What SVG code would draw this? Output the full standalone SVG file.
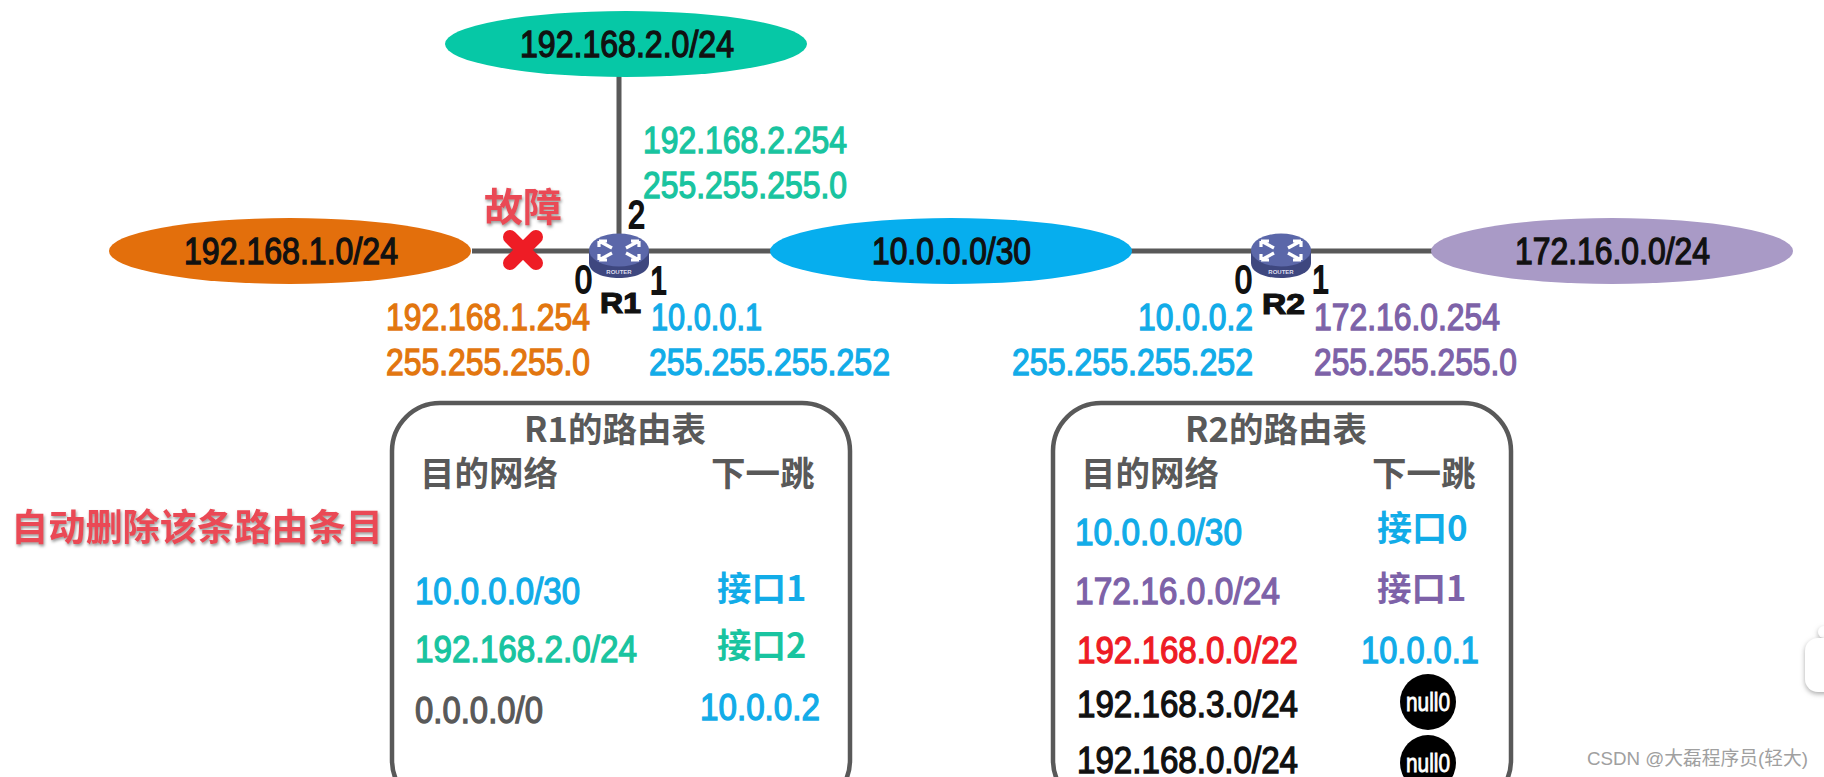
<svg xmlns="http://www.w3.org/2000/svg" xmlns:xlink="http://www.w3.org/1999/xlink" width="1824" height="777" viewBox="0 0 1824 777">
<style>
text{font-family:"Liberation Sans","Noto Sans CJK SC",sans-serif;font-size:36px;stroke-width:1.3px;paint-order:stroke}
.cjk{font-family:"Noto Sans CJK SC","Liberation Sans",sans-serif;font-weight:700;stroke-width:0}
.k{fill:#111;stroke:#111}.o{fill:#e2760f;stroke:#e2760f}.b{fill:#12ace8;stroke:#12ace8}.t{fill:#19c4a0;stroke:#19c4a0}.p{fill:#7d62a8;stroke:#7d62a8}.g{fill:#595959;stroke:#595959}.r{fill:#ee1c25;stroke:#ee1c25}
.c{fill:#12ace8}.u{fill:#7d62a8}.v{fill:#19c4a0}.h{fill:#595959}
.d{stroke-width:2px;font-size:38px}
.link{stroke:#595959;stroke-width:5;fill:none}
.box{fill:none;stroke:#595959;stroke-width:4.5}
.alert{fill:#ea4a55;filter:url(#sh)}
.arrow{fill:none;stroke:#fff;stroke-width:3.2}
.nul{fill:#fff;font-size:25px;stroke:#fff;stroke-width:.8px;text-anchor:middle}
.rn{font-size:30px;font-weight:700;stroke-width:1.2px}
</style>
<defs>
<filter id="sh" x="-10%" y="-20%" width="120%" height="140%"><feDropShadow dx="1" dy="2" stdDeviation="1.5" flood-color="#999"/></filter>
<filter id="tab" x="-50%" y="-30%" width="200%" height="160%"><feDropShadow dx="0" dy="2" stdDeviation="2.5" flood-color="#aaa"/></filter>
<g id="router">
<path d="M-30,-4V8C-30,18 -15,23 0,23S30,18 30,8V-4Z" fill="#3e477f"/>
<ellipse cx="0" cy="-5" rx="30" ry="16.500" fill="#5b67a9"/>
<path class="arrow" d="M-20,-14L-7,-7M-20,-14h8M-20,-14v6M20,-14L7,-7M20,-14h-8M20,-14v6M-20,5L-7,-2M-20,5h8M-20,5v-6M20,5L7,-2M20,5h-8M20,5v-6"/>
<text x="0" y="19" text-anchor="middle" style="font-size:6px;fill:#dde;stroke-width:0;font-weight:700">ROUTER</text>
</g>
</defs>
<rect width="1824" height="777" fill="#fff"/>
<g id="connectors">
<path class="link" d="M472,251H1440"/>
<path class="link" d="M619,76V240"/>
</g>
<g id="net-192-168-2"><ellipse cx="626" cy="44" rx="181" ry="33" fill="#06c8a6"/><text class="k" x="520" y="57" textLength="214" lengthAdjust="spacingAndGlyphs">192.168.2.0/24</text></g>
<g id="net-192-168-1"><ellipse cx="290" cy="251" rx="181" ry="33" fill="#e36f0c"/><text class="k" x="184" y="264" textLength="214" lengthAdjust="spacingAndGlyphs">192.168.1.0/24</text></g>
<g id="net-10-0-0"><ellipse cx="951" cy="251" rx="181" ry="33" fill="#06aeee"/><text class="k" x="872" y="264" textLength="159" lengthAdjust="spacingAndGlyphs">10.0.0.0/30</text></g>
<g id="net-172-16-0"><ellipse cx="1612" cy="251" rx="181" ry="33" fill="#a99ac6"/><text class="k" x="1515" y="264" textLength="195" lengthAdjust="spacingAndGlyphs">172.16.0.0/24</text></g>
<g id="R1">
<use xlink:href="#router" href="#router" x="619" y="255"/>
<text class="k d" x="628" y="228" textLength="17" lengthAdjust="spacingAndGlyphs">2</text>
<text class="k d" x="575" y="293" textLength="17" lengthAdjust="spacingAndGlyphs">0</text>
<text class="k d" x="650" y="294" textLength="17" lengthAdjust="spacingAndGlyphs">1</text>
<text class="k rn" x="600" y="313" textLength="41" lengthAdjust="spacingAndGlyphs">R1</text>
<text class="t" x="643" y="153" textLength="204" lengthAdjust="spacingAndGlyphs">192.168.2.254</text>
<text class="t" x="643" y="198" textLength="204" lengthAdjust="spacingAndGlyphs">255.255.255.0</text>
<text class="o" x="386" y="330" textLength="204" lengthAdjust="spacingAndGlyphs">192.168.1.254</text>
<text class="o" x="386" y="375" textLength="204" lengthAdjust="spacingAndGlyphs">255.255.255.0</text>
<text class="b" x="651" y="330" textLength="111" lengthAdjust="spacingAndGlyphs">10.0.0.1</text>
<text class="b" x="649" y="375" textLength="241" lengthAdjust="spacingAndGlyphs">255.255.255.252</text>
</g>
<g id="R2">
<use xlink:href="#router" href="#router" x="1281" y="255"/>
<text class="k d" x="1235" y="293" textLength="17" lengthAdjust="spacingAndGlyphs">0</text>
<text class="k d" x="1312" y="293" textLength="17" lengthAdjust="spacingAndGlyphs">1</text>
<text class="k rn" x="1262" y="314" textLength="43" lengthAdjust="spacingAndGlyphs">R2</text>
<text class="b" x="1138" y="330" textLength="115" lengthAdjust="spacingAndGlyphs">10.0.0.2</text>
<text class="b" x="1012" y="375" textLength="241" lengthAdjust="spacingAndGlyphs">255.255.255.252</text>
<text class="p" x="1314" y="330" textLength="186" lengthAdjust="spacingAndGlyphs">172.16.0.254</text>
<text class="p" x="1314" y="375" textLength="203" lengthAdjust="spacingAndGlyphs">255.255.255.0</text>
</g>
<g id="fault">
<text class="cjk alert" x="484" y="221" style="font-size:39px">故障</text>
<path d="M510,237L536,263M536,237L510,263" stroke="#ee1c25" stroke-width="14" stroke-linecap="round"/>
</g>
<text id="delete-note" class="cjk alert" x="11" y="541" style="font-size:37.200px">自动删除该条路由条目</text>
<g id="table-R1">
<rect class="box" x="392" y="403" width="458" height="405" rx="48"/>
<text class="cjk h" x="524" y="442" style="font-size:34.500px">R1的路由表</text>
<text class="cjk h" x="420" y="486" style="font-size:34.500px">目的网络</text>
<text class="cjk h" x="711" y="486" style="font-size:34.500px">下一跳</text>
<text class="b" x="415" y="604" textLength="165" lengthAdjust="spacingAndGlyphs">10.0.0.0/30</text>
<text class="t" x="415" y="662" textLength="222" lengthAdjust="spacingAndGlyphs">192.168.2.0/24</text>
<text class="g" x="415" y="723" textLength="128" lengthAdjust="spacingAndGlyphs">0.0.0.0/0</text>
<text class="cjk c" x="717" y="601" style="font-size:34.500px">接口1</text>
<text class="cjk v" x="717" y="658" style="font-size:34.500px">接口2</text>
<text class="b" x="700" y="720" textLength="120" lengthAdjust="spacingAndGlyphs">10.0.0.2</text>
</g>
<g id="table-R2">
<rect class="box" x="1053" y="403" width="458" height="405" rx="48"/>
<text class="cjk h" x="1185" y="442" style="font-size:34.500px">R2的路由表</text>
<text class="cjk h" x="1081" y="486" style="font-size:34.500px">目的网络</text>
<text class="cjk h" x="1372" y="486" style="font-size:34.500px">下一跳</text>
<text class="b" x="1075" y="545" textLength="167" lengthAdjust="spacingAndGlyphs">10.0.0.0/30</text>
<text class="p" x="1075" y="604" textLength="205" lengthAdjust="spacingAndGlyphs">172.16.0.0/24</text>
<text class="r" x="1077" y="663" textLength="221" lengthAdjust="spacingAndGlyphs">192.168.0.0/22</text>
<text class="k" x="1077" y="717" textLength="221" lengthAdjust="spacingAndGlyphs">192.168.3.0/24</text>
<text class="k" x="1077" y="773" textLength="221" lengthAdjust="spacingAndGlyphs">192.168.0.0/24</text>
<text class="cjk c" x="1377" y="541" style="font-size:35px">接口0</text>
<text class="cjk u" x="1377" y="601" style="font-size:34.500px">接口1</text>
<text class="b" x="1361" y="663" textLength="118" lengthAdjust="spacingAndGlyphs">10.0.0.1</text>
<circle cx="1428" cy="702" r="28" fill="#000"/>
<text class="nul" x="1428" y="711" textLength="44" lengthAdjust="spacingAndGlyphs">null0</text>
<circle cx="1428" cy="763" r="28" fill="#000"/>
<text class="nul" x="1428" y="772" textLength="44" lengthAdjust="spacingAndGlyphs">null0</text>
</g>
<circle cx="1824" cy="632" r="6" fill="#fff" filter="url(#tab)"/>
<rect x="1805" y="638" width="40" height="54" rx="13" fill="#fff" filter="url(#tab)"/>
<text id="watermark" x="1587" y="765" style="font-size:19px;fill:#a0a0a0;stroke-width:0" textLength="221" lengthAdjust="spacingAndGlyphs">CSDN @大磊程序员(轻大)</text>
</svg>
